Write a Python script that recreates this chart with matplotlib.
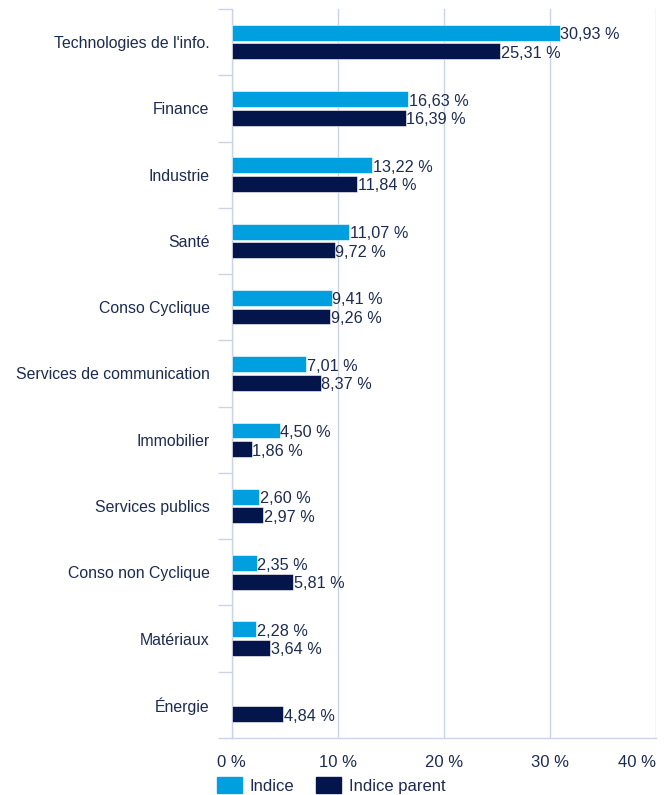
import numpy as np
import matplotlib
matplotlib.use("Agg")
import matplotlib.pyplot as plt
from matplotlib.patches import Patch

plt.rcParams["font.family"] = ["Liberation Sans", "DejaVu Sans"]

SECTORS = [
    "Technologies de l'info.", "Finance", "Industrie", "Santé", "Conso Cyclique",
    "Services de communication", "Immobilier", "Services publics",
    "Conso non Cyclique", "Matériaux", "Énergie",
]
INDICE = [30.93, 16.63, 13.22, 11.07, 9.41, 7.01, 4.50, 2.60, 2.35, 2.28, np.nan]
PARENT = [25.31, 16.39, 11.84, 9.72, 9.26, 8.37, 1.86, 2.97, 5.81, 3.64, 4.84]
XTICKS = [0, 10, 20, 30, 40]

C_INDICE = "#009fe0"
C_PARENT = "#04154b"
C_TEXT = "#1c2b50"
C_GRID = "#cad4e6"


def fmt(v):
    return f"{v:.2f}".replace(".", ",") + " %"


def main():
    fig = plt.figure(figsize=(6.68, 7.95), dpi=100)
    ax = fig.add_axes([0.347, 0.0717, 0.635, 0.917])

    y = np.arange(len(SECTORS))
    h = 0.24
    off = 0.14
    ax.barh(y - off, INDICE, height=h, color=C_INDICE, edgecolor="white", linewidth=0.4, zorder=3)
    ax.barh(y + off, PARENT, height=h, color=C_PARENT, edgecolor="white", linewidth=0.4, zorder=3)

    # value labels just right of each bar
    for yi, v in zip(y, INDICE):
        if not np.isnan(v):
            ax.text(v + 0.05, yi - off + 0.03, fmt(v), va="center", ha="left",
                    fontsize=11.7, color=C_TEXT)
    for yi, v in zip(y, PARENT):
        ax.text(v + 0.05, yi + off + 0.03, fmt(v), va="center", ha="left",
                fontsize=11.7, color=C_TEXT)

    ax.set_xlim(0, 40)
    ax.set_ylim(len(SECTORS) - 0.5, -0.5)
    ax.set_xticks(XTICKS)
    ax.set_xticklabels([f"{t} %" for t in XTICKS])
    ax.get_xticklabels()[-1].set_horizontalalignment("right")
    ax.set_yticks(y)
    ax.set_yticklabels(SECTORS)
    ax.set_yticks(np.arange(-0.5, len(SECTORS)), minor=True)

    ax.tick_params(axis="y", which="major", length=0, pad=16, labelsize=11.4, labelcolor=C_TEXT)
    ax.tick_params(axis="y", which="minor", length=10, width=1, color=C_GRID)
    ax.tick_params(axis="x", length=0, pad=12, labelsize=12, labelcolor=C_TEXT)

    ax.grid(axis="x", color=C_GRID, linewidth=1, zorder=0)
    for s in ["top", "right"]:
        ax.spines[s].set_visible(False)
    for s in ["left", "bottom"]:
        ax.spines[s].set_color(C_GRID)
        ax.spines[s].set_linewidth(1)

    handles = [Patch(color=C_INDICE, label="Indice"), Patch(color=C_PARENT, label="Indice parent")]
    fig.legend(handles=handles, loc="lower left", bbox_to_anchor=(0.303, -0.017), ncol=2,
               frameon=False, fontsize=12, labelcolor=C_TEXT, handlelength=1.5,
               handleheight=1.1, handletextpad=0.45, columnspacing=1.3)

    fig.savefig("out.png", dpi=100)
    plt.close(fig)


if __name__ == "__main__":
    main()
